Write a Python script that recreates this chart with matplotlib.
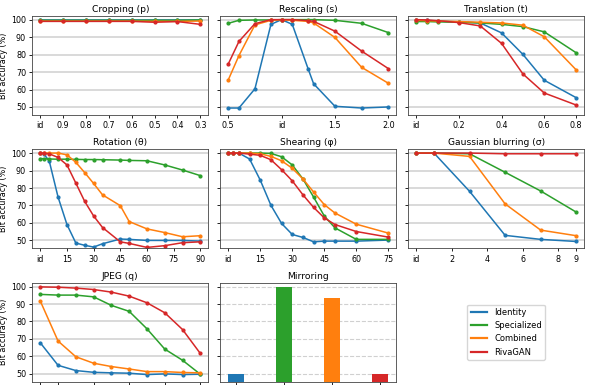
import matplotlib
matplotlib.use('Agg')
import matplotlib.pyplot as plt
from matplotlib.lines import Line2D

methods = ['Identity', 'Specialized', 'Combined', 'RivaGAN']
colors = ['tab:blue', 'tab:green', 'tab:orange', 'tab:red']

# Cropping (p)
crop_x = [0, 1, 2, 3, 4, 5, 6, 7]
crop_labels = ['id', '0.9', '0.8', '0.7', '0.6', '0.5', '0.4', '0.3']
crop_id = [100, 100, 100, 100, 100, 100, 100, 100]
crop_spec = [99.6, 99.6, 99.6, 99.6, 99.6, 99.6, 99.6, 99.8]
crop_comb = [99.1, 99.1, 99.1, 99.1, 99.1, 99.0, 99.0, 99.2]
crop_riva = [99.0, 99.0, 99.0, 99.0, 99.0, 98.5, 98.9, 97.3]

# Rescaling (s)
scale_x = [0.5, 0.6, 0.75, 0.9, 1.0, 1.1, 1.25, 1.3, 1.5, 1.75, 2.0]
scale_id = [49.4, 49.4, 60.4, 97.3, 100, 97.3, 71.6, 63.3, 50.4, 49.4, 50.0]
scale_spec = [97.9, 99.6, 99.8, 99.8, 100, 100, 100, 100, 99.6, 97.9, 92.6]
scale_comb = [65.5, 79.4, 97.0, 99.6, 100, 99.6, 99.0, 98.1, 89.8, 72.7, 63.6]
scale_riva = [74.6, 87.5, 97.7, 100, 100, 100, 99.4, 99.0, 93.4, 82.0, 72.0]

# Translation (t)
trans_x = [0, 0.05, 0.1, 0.2, 0.3, 0.4, 0.5, 0.6, 0.75]
trans_id = [100, 99.6, 99.2, 98.7, 98.1, 92.4, 80.1, 65.3, 55.3]
trans_spec = [98.9, 98.9, 98.7, 98.5, 98.1, 97.3, 96.0, 93.0, 81.0]
trans_comb = [99.6, 99.4, 99.2, 98.9, 98.5, 98.1, 96.8, 90.2, 71.2]
trans_riva = [100, 99.8, 99.4, 98.3, 96.4, 86.4, 68.9, 58.0, 51.1]

# Rotation (theta)
rot_x = [0, 2, 5, 10, 15, 20, 25, 30, 35, 45, 50, 60, 70, 80, 90]
rot_id = [100, 99.4, 95.6, 74.8, 59.1, 48.5, 47.2, 46.2, 48.1, 50.8, 50.6, 50.0, 50.0, 50.0, 49.6]
rot_spec = [96.8, 96.8, 96.6, 96.5, 96.5, 96.4, 96.3, 96.3, 96.2, 96.0, 95.8, 95.6, 93.2, 90.3, 87.1]
rot_comb = [100, 100, 100, 100, 99.0, 94.7, 88.8, 82.6, 76.1, 69.9, 60.8, 56.6, 54.5, 52.1, 52.7]
rot_riva = [100, 99.8, 99.6, 97.5, 93.2, 82.8, 72.3, 64.0, 57.4, 49.2, 48.3, 46.0, 47.0, 48.7, 49.2]

# Shearing (phi)
shear_x = [0, 2, 5, 10, 15, 20, 25, 30, 35, 40, 45, 50, 60, 75]
shear_id = [100, 100, 100, 96.6, 84.5, 70.1, 59.7, 53.4, 51.7, 49.2, 49.6, 49.6, 49.6, 50.2]
shear_spec = [100, 100, 100, 100, 100, 99.8, 97.9, 93.2, 85.2, 74.8, 64.0, 57.2, 50.6, 50.6]
shear_comb = [100, 100, 100, 100, 99.6, 98.1, 95.6, 91.3, 85.2, 77.7, 70.5, 65.7, 59.3, 54.2]
shear_riva = [100, 100, 100, 99.4, 98.7, 96.2, 90.5, 84.1, 76.1, 68.9, 62.9, 59.1, 55.1, 51.9]

# Gaussian blurring (sigma)
blur_x = [0, 1, 3, 5, 7, 9]
blur_id = [100, 100, 78.1, 52.9, 50.6, 49.4]
blur_spec = [100, 100, 99.6, 89.0, 78.3, 66.2]
blur_comb = [100, 100, 98.1, 70.9, 55.9, 52.7]
blur_riva = [100, 100, 100, 99.6, 99.6, 99.6]

# JPEG (q) - tick labels fall outside the picture, so only tick marks
jpeg_x = [0, 1, 2, 3, 4, 5, 6, 7, 8, 9]
jpeg_ticks = [0, 1, 3, 5, 7, 9]
jpeg_labels = ['', '', '', '', '', '']
jpeg_id = [67.8, 54.9, 51.9, 50.9, 50.6, 50.4, 49.6, 50.0, 49.6, 49.8]
jpeg_spec = [95.5, 95.1, 95.1, 94.1, 89.2, 85.8, 75.8, 64.2, 57.8, 49.8]
jpeg_comb = [91.7, 68.8, 59.8, 56.1, 54.2, 52.8, 51.3, 51.3, 50.8, 50.6]
jpeg_riva = [99.8, 99.6, 99.1, 98.3, 96.8, 94.5, 90.7, 85.0, 75.4, 61.7]

# Mirroring
mirror_vals = [50, 100, 93.2, 50]

panels = [
    ('Cropping (p)', crop_x, [crop_id, crop_spec, crop_comb, crop_riva], crop_x, crop_labels),
    ('Rescaling (s)', scale_x, [scale_id, scale_spec, scale_comb, scale_riva], [0.5, 1.0, 1.5, 2.0], ['0.5', 'id', '1.5', '2.0']),
    ('Translation (t)', trans_x, [trans_id, trans_spec, trans_comb, trans_riva], [0, 0.2, 0.4, 0.6, 0.75], ['id', '0.2', '0.4', '0.6', '0.8']),
    ('Rotation (θ)', rot_x, [rot_id, rot_spec, rot_comb, rot_riva], [0, 15, 30, 45, 60, 75, 90], ['id', '15', '30', '45', '60', '75', '90']),
    ('Shearing (φ)', shear_x, [shear_id, shear_spec, shear_comb, shear_riva], [0, 15, 30, 45, 60, 75], ['id', '15', '30', '45', '60', '75']),
    ('Gaussian blurring (σ)', blur_x, [blur_id, blur_spec, blur_comb, blur_riva], [0, 2, 4, 6, 8, 9], ['id', '2', '4', '6', '8', '9']),
    ('JPEG (q)', jpeg_x, [jpeg_id, jpeg_spec, jpeg_comb, jpeg_riva], jpeg_ticks, jpeg_labels),
]

fig, axes = plt.subplots(3, 3, figsize=(5.98, 3.85), dpi=100, sharey=True)
fig.subplots_adjust(left=0.054, right=0.977, top=0.959, bottom=0.008, wspace=0.068, hspace=0.345)

for ax, (title, xs, series, ticks, labels) in zip(axes.flat, panels):
    for ys, c in zip(series, colors):
        ax.plot(xs, ys, color=c, lw=1.1, marker='o', ms=2)
    ax.set_xticks(ticks)
    ax.set_xticklabels(labels)
    ax.set_title(title, fontsize=6.6, pad=3)
    ax.grid(axis='y', color='#d0d0d0', lw=1.1)
    ax.set_axisbelow(True)

# mirroring bars
ax = axes[2, 1]
ax.bar(range(4), mirror_vals, width=0.33, color=colors)
ax.set_xticks(range(4))
ax.set_xticklabels(['', '', '', ''])
ax.set_title('Mirroring', fontsize=6.6, pad=3)
ax.grid(axis='y', color='#d0d0d0', lw=0.8, ls='--')
ax.set_axisbelow(True)

for ax in axes.flat:
    ax.set_ylim(45.4, 102.2)
    ax.set_yticks([50, 60, 70, 80, 90, 100])
    ax.tick_params(labelsize=5.8, width=0.6, length=2.5, pad=2)
    for s in ax.spines.values():
        s.set_linewidth(0.6)
        s.set_color('#444444')

for r in range(3):
    axes[r, 0].set_ylabel('Bit accuracy (%)', fontsize=5.8, labelpad=2)

# legend in the empty slot
axes[2, 2].axis('off')
handles = [Line2D([0], [0], color=c, lw=1.6) for c in colors]
axes[2, 2].legend(handles, methods, loc='center', bbox_to_anchor=(0.557, 0.5), fontsize=6)

fig.savefig('out.png', dpi=100)
